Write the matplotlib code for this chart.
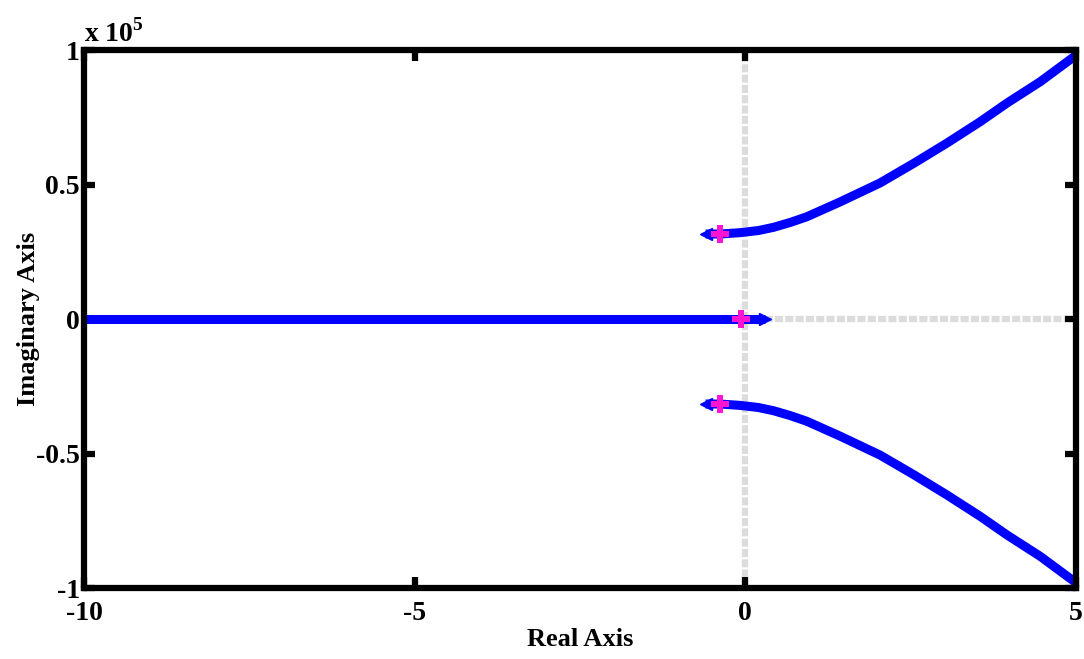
import numpy as np
import matplotlib.pyplot as plt
from matplotlib.ticker import FuncFormatter

plt.rcParams['font.family'] = 'Liberation Serif'
plt.rcParams['font.weight'] = 'bold'
plt.rcParams['axes.unicode_minus'] = False
plt.rcParams['mathtext.fontset'] = 'custom'
plt.rcParams['mathtext.rm'] = 'Liberation Serif:bold'

# upper branch of the locus (real part, imaginary part); lower branch is its mirror
branch_re = [-0.6, -0.38, -0.08, 0.2, 0.43, 0.68, 0.93, 1.44, 2.04, 2.55, 3.05, 3.55,
             3.96, 4.46, 5.0]
branch_im = [31600, 31600, 32100, 32900, 34100, 35900, 38000, 43600, 50600, 57900,
             65400, 73300, 80300, 88200, 98000]
# real-axis branch
real_re = [-10.0, 0.3]
# open-loop poles
pole_re = [-0.38, -0.38, -0.06]
pole_im = [31600, -31600, 0]

blue = '#0000ff'
fig = plt.figure(figsize=(10.84, 6.59), dpi=100)
ax = fig.add_axes([0.0775, 0.1077, 0.915, 0.8164])

# dotted grey axes lines through the origin
ax.axvline(0, color='#dcdcdc', lw=4.5, dashes=(1.3, 0.35), zorder=1)
ax.axhline(0, color='#dcdcdc', lw=4.5, dashes=(1.3, 0.35), zorder=1)

ax.plot(branch_re, branch_im, color=blue, lw=6.5, solid_capstyle='butt',
        solid_joinstyle='round', zorder=2)
ax.plot(branch_re, [-v for v in branch_im], color=blue, lw=6.5, solid_capstyle='butt',
        solid_joinstyle='round', zorder=2)
ax.plot(real_re, [0, 0], color=blue, lw=6.5, solid_capstyle='butt', zorder=2)

# direction arrows at branch ends
ax.plot([branch_re[0]] * 2, [branch_im[0], -branch_im[0]], ls='none', marker='<',
        ms=8, color=blue, zorder=3)
ax.plot([real_re[-1]], [0], ls='none', marker='>', ms=8, color=blue, zorder=3)

ax.plot(pole_re, pole_im, ls='none', marker='P', ms=13, color='#ff14d2',
        markeredgewidth=0, zorder=4)

ax.set_xlim(-10, 5)
ax.set_ylim(-1e5, 1e5)
ax.set_xticks([-10, -5, 0, 5])
ax.set_yticks([-1e5, -0.5e5, 0, 0.5e5, 1e5])
ax.yaxis.set_major_formatter(FuncFormatter(lambda v, p: '%g' % (v / 1e5)))
ax.tick_params(direction='in', length=8, width=4.5, labelsize=20, pad=3,
               top=True, right=True)
ax.tick_params(axis='x', pad=9)
for s in ax.spines.values():
    s.set_linewidth(4.5)

ax.set_xlabel('Real Axis', fontsize=19, fontweight='bold', labelpad=2)
ax.set_ylabel('Imaginary Axis', fontsize=19, fontweight='bold', va='center')
ax.yaxis.set_label_coords(-0.056, 0.5)
ax.text(0.0, 1.005, r'x 10$^{5}$', transform=ax.transAxes, fontsize=20,
        fontweight='bold', ha='left', va='bottom')

fig.savefig('out.png', dpi=100)
